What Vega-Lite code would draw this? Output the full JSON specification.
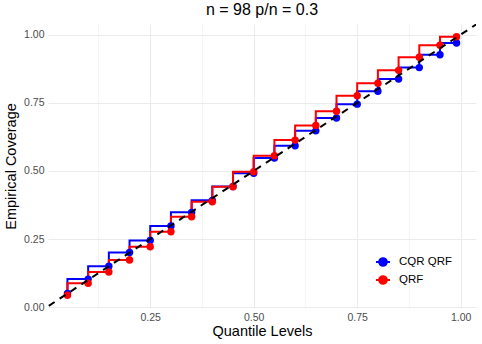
{
  "$schema": "https://vega.github.io/schema/vega-lite/v6.json",
  "width": 428,
  "height": 284,
  "autosize": {"type": "none"},
  "padding": {"left": 48, "top": 24, "right": 6, "bottom": 36},
  "background": "white",
  "config": {
    "font": "Liberation Sans",
    "view": {"stroke": null},
    "axis": {"domain": false, "ticks": false, "labelColor": "#4D4D4D", "labelFontSize": 10.5, "titleFontSize": 14.5, "titleFontWeight": "normal", "titleColor": "#000000", "gridColor": "#EBEBEB"}
  },
  "title": {"text": "n = 98 p/n = 0.3", "fontSize": 16, "fontWeight": "normal", "anchor": "middle", "offset": 6, "color": "#000000"},
  "datasets": {
    "cov": [
      {"level": 0.05, "coverage": 0.050, "method": "CQR QRF"},
      {"level": 0.10, "coverage": 0.103, "method": "CQR QRF"},
      {"level": 0.15, "coverage": 0.150, "method": "CQR QRF"},
      {"level": 0.20, "coverage": 0.201, "method": "CQR QRF"},
      {"level": 0.25, "coverage": 0.245, "method": "CQR QRF"},
      {"level": 0.30, "coverage": 0.298, "method": "CQR QRF"},
      {"level": 0.35, "coverage": 0.348, "method": "CQR QRF"},
      {"level": 0.40, "coverage": 0.392, "method": "CQR QRF"},
      {"level": 0.45, "coverage": 0.443, "method": "CQR QRF"},
      {"level": 0.50, "coverage": 0.491, "method": "CQR QRF"},
      {"level": 0.55, "coverage": 0.547, "method": "CQR QRF"},
      {"level": 0.60, "coverage": 0.592, "method": "CQR QRF"},
      {"level": 0.65, "coverage": 0.647, "method": "CQR QRF"},
      {"level": 0.70, "coverage": 0.694, "method": "CQR QRF"},
      {"level": 0.75, "coverage": 0.745, "method": "CQR QRF"},
      {"level": 0.80, "coverage": 0.792, "method": "CQR QRF"},
      {"level": 0.85, "coverage": 0.837, "method": "CQR QRF"},
      {"level": 0.90, "coverage": 0.879, "method": "CQR QRF"},
      {"level": 0.95, "coverage": 0.926, "method": "CQR QRF"},
      {"level": 0.99, "coverage": 0.969, "method": "CQR QRF"},
      {"level": 0.05, "coverage": 0.044, "method": "QRF"},
      {"level": 0.10, "coverage": 0.088, "method": "QRF"},
      {"level": 0.15, "coverage": 0.129, "method": "QRF"},
      {"level": 0.20, "coverage": 0.173, "method": "QRF"},
      {"level": 0.25, "coverage": 0.222, "method": "QRF"},
      {"level": 0.30, "coverage": 0.277, "method": "QRF"},
      {"level": 0.35, "coverage": 0.332, "method": "QRF"},
      {"level": 0.40, "coverage": 0.387, "method": "QRF"},
      {"level": 0.45, "coverage": 0.442, "method": "QRF"},
      {"level": 0.50, "coverage": 0.497, "method": "QRF"},
      {"level": 0.55, "coverage": 0.556, "method": "QRF"},
      {"level": 0.60, "coverage": 0.613, "method": "QRF"},
      {"level": 0.65, "coverage": 0.667, "method": "QRF"},
      {"level": 0.70, "coverage": 0.719, "method": "QRF"},
      {"level": 0.75, "coverage": 0.776, "method": "QRF"},
      {"level": 0.80, "coverage": 0.822, "method": "QRF"},
      {"level": 0.85, "coverage": 0.869, "method": "QRF"},
      {"level": 0.90, "coverage": 0.917, "method": "QRF"},
      {"level": 0.95, "coverage": 0.961, "method": "QRF"},
      {"level": 0.99, "coverage": 0.992, "method": "QRF"}
    ],
    "diag": [
      {"level": -0.1, "coverage": -0.1},
      {"level": 1.2, "coverage": 1.2}
    ]
  },
  "layer": [
    {
      "data": {"name": "cov"},
      "mark": {"type": "line", "interpolate": "step-before", "strokeWidth": 2, "clip": true},
      "encoding": {
        "x": {"field": "level", "type": "quantitative", "title": "Quantile Levels",
          "scale": {"domain": [0.003, 1.037], "nice": false, "zero": false},
          "axis": {"values": [0.125, 0.25, 0.375, 0.5, 0.625, 0.75, 0.875, 1.0], "format": ".2f",
            "labelExpr": "datum.value % 0.25 == 0 ? datum.label : ''",
            "gridWidth": {"condition": {"test": "datum.value % 0.25 == 0", "value": 1}, "value": 0.5},
            "labelPadding": 4, "titlePadding": 2}},
        "y": {"field": "coverage", "type": "quantitative", "title": "Empirical Coverage",
          "scale": {"domain": [-0.003, 1.039], "nice": false, "zero": false},
          "axis": {"values": [0, 0.125, 0.25, 0.375, 0.5, 0.625, 0.75, 0.875, 1.0], "format": ".2f",
            "labelExpr": "datum.value % 0.25 == 0 ? datum.label : ''",
            "gridWidth": {"condition": {"test": "datum.value % 0.25 == 0", "value": 1}, "value": 0.5},
            "labelPadding": 4, "titlePadding": 5}},
        "color": {"field": "method", "type": "nominal",
          "scale": {"domain": ["CQR QRF", "QRF"], "range": ["#0000FF", "#FF0000"]},
          "legend": {"title": null, "orient": "none", "legendX": 327, "legendY": 230,
            "symbolType": "M-1,0L1,0M0.55,0A0.55,0.55,0,1,1,-0.55,0A0.55,0.55,0,1,1,0.55,0Z",
            "symbolSize": 196, "symbolStrokeWidth": 2, "labelFontSize": 11.5, "labelColor": "#000000",
            "labelOffset": 8, "rowPadding": 2, "padding": 0}}
      }
    },
    {
      "data": {"name": "cov"},
      "mark": {"type": "point", "filled": true, "size": 55, "opacity": 1},
      "encoding": {
        "x": {"field": "level", "type": "quantitative"},
        "y": {"field": "coverage", "type": "quantitative"},
        "color": {"field": "method", "type": "nominal"}
      }
    },
    {
      "data": {"name": "diag"},
      "mark": {"type": "line", "color": "#000000", "strokeWidth": 2, "strokeDash": [7, 6], "clip": true},
      "encoding": {
        "x": {"field": "level", "type": "quantitative"},
        "y": {"field": "coverage", "type": "quantitative"}
      }
    }
  ]
}
